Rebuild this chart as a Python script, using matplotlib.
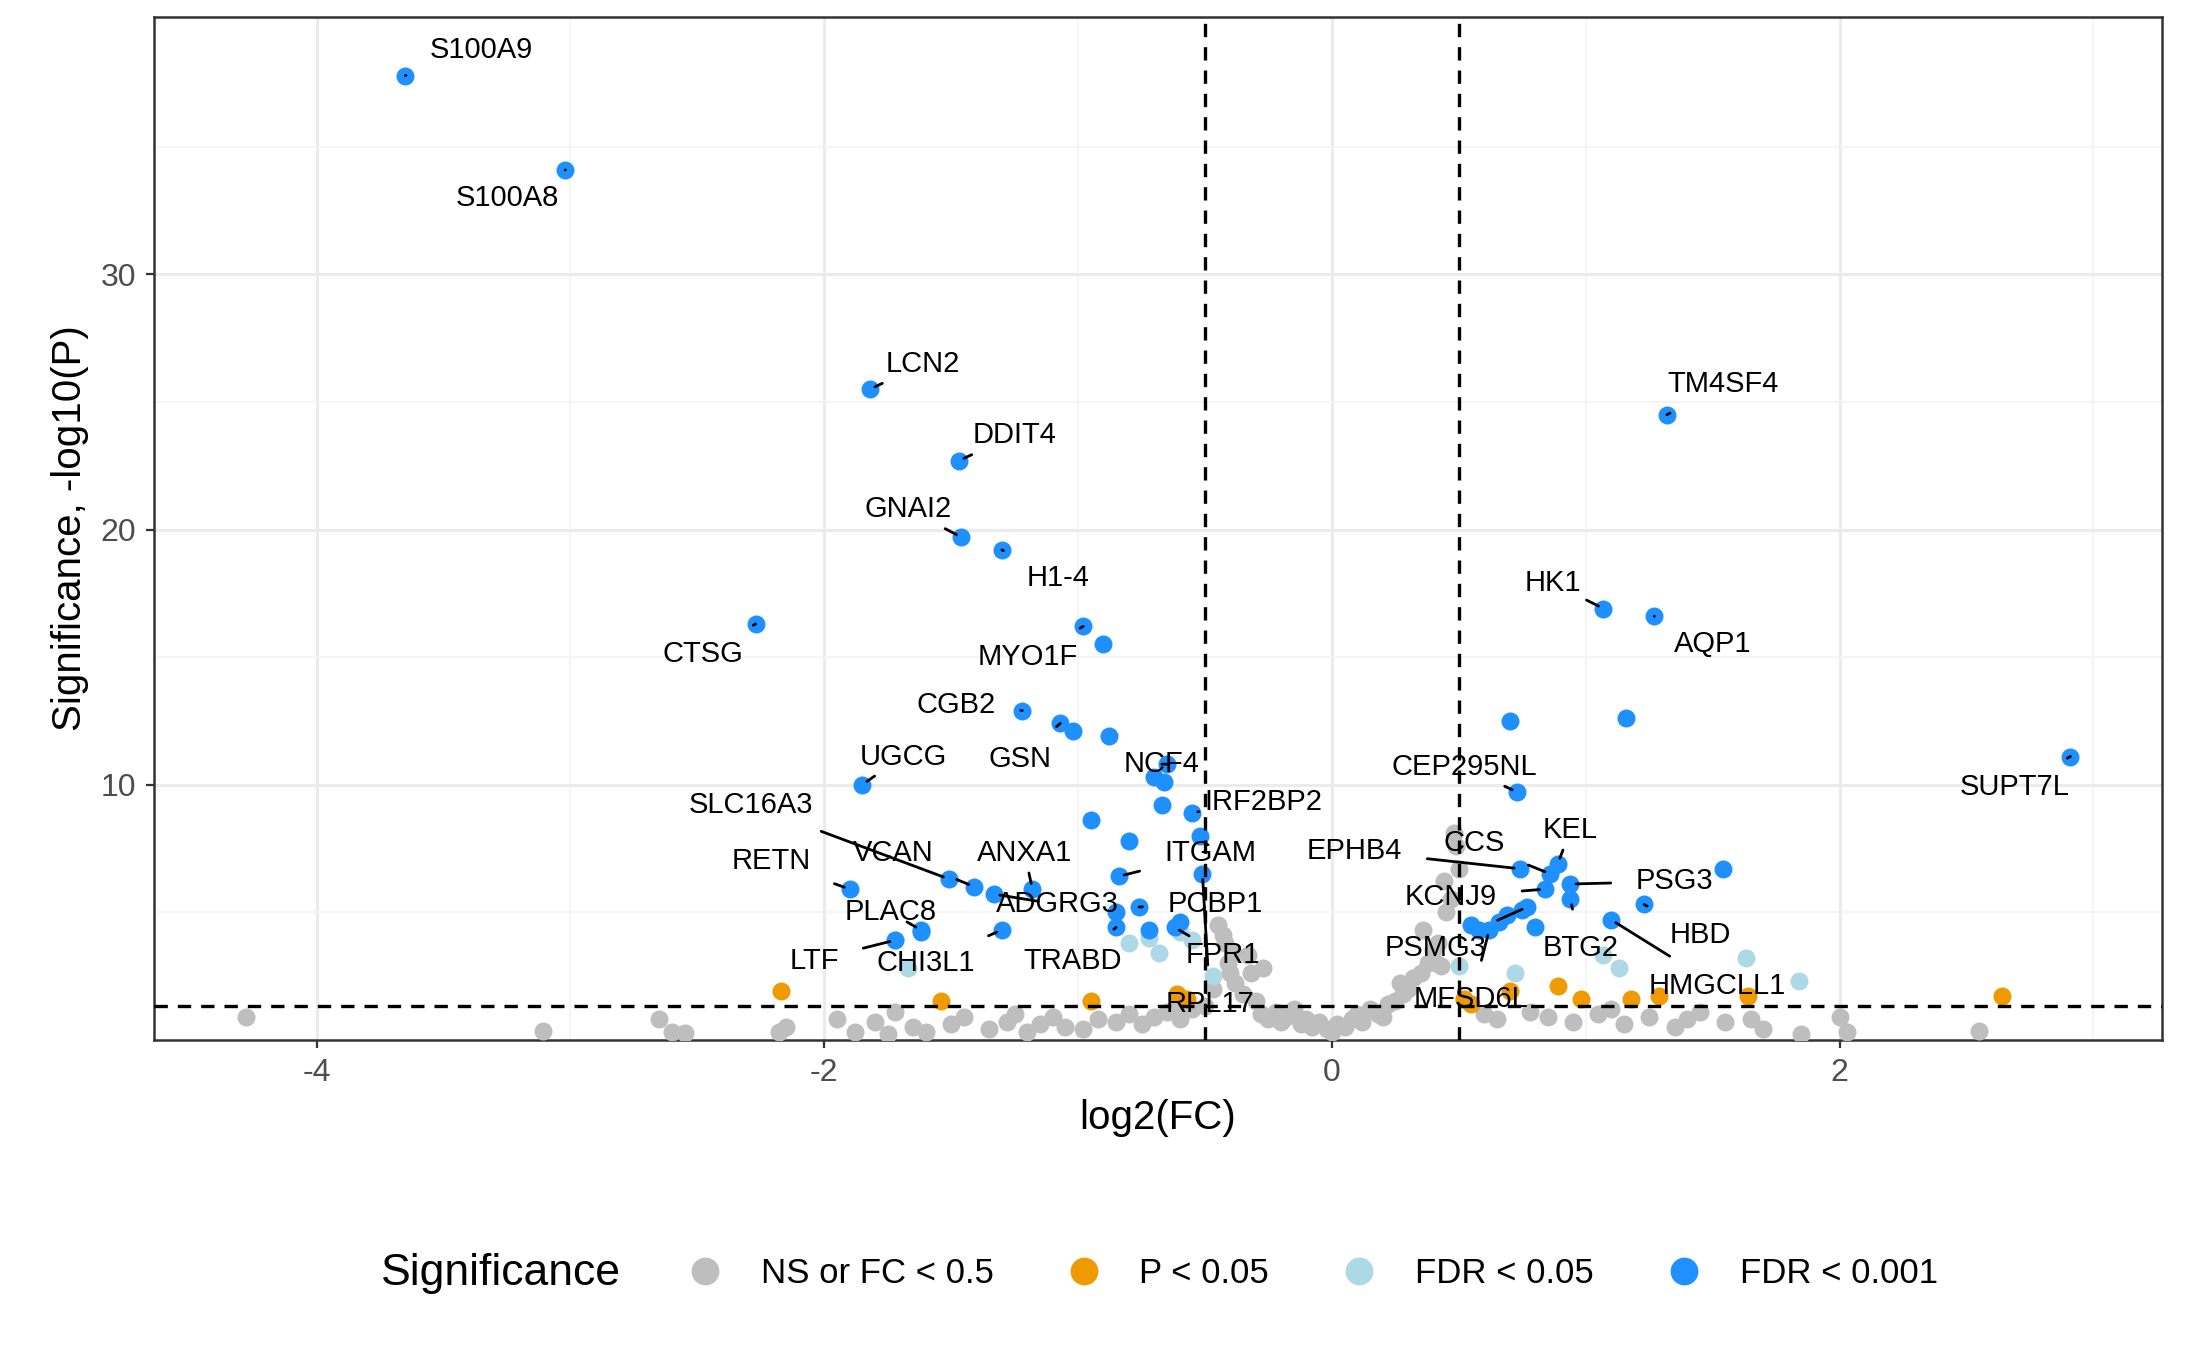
import matplotlib.pyplot as plt
from matplotlib.lines import Line2D
from matplotlib.offsetbox import HPacker

plt.rcParams['font.family'] = ['Liberation Sans', 'DejaVu Sans']
plt.rcParams['axes.unicode_minus'] = False

# labelled genes: name, log2FC, -log10P, label x, label y
genes = ["S100A9", "S100A8", "LCN2", "DDIT4", "GNAI2", "H1-4", "CTSG", "MYO1F", "CGB2", "GSN",
         "UGCG", "NCF4", "SLC16A3", "IRF2BP2", "VCAN", "ANXA1", "ITGAM", "RETN", "ADGRG3", "PCBP1",
         "PLAC8", "LTF", "CHI3L1", "TRABD", "FPR1", "RPL17",
         "TM4SF4", "HK1", "AQP1", "CEP295NL", "SUPT7L", "KEL", "CCS", "EPHB4", "PSG3", "KCNJ9",
         "HBD", "PSMG3", "BTG2", "HMGCLL1", "MFSD6L"]
gene_fc = [-3.65, -3.02, -1.82, -1.47, -1.46, -1.30, -2.27, -0.98, -1.22, -1.07,
           -1.85, -0.65, -1.51, -0.55, -1.41, -1.18, -0.84, -1.90, -1.33, -0.76,
           -1.62, -1.72, -1.30, -0.85, -0.62, -0.51,
           1.32, 1.07, 1.27, 0.73, 2.91, 0.89, 0.86, 0.74, 0.94, 0.84,
           1.23, 0.77, 0.94, 1.10, 0.62]
gene_p = [37.8, 34.1, 25.5, 22.7, 19.7, 19.2, 16.3, 16.2, 12.9, 12.4,
          10.0, 10.8, 6.3, 8.9, 6.0, 5.9, 6.4, 5.9, 5.7, 5.2,
          4.3, 3.9, 4.3, 4.4, 4.4, 6.5,
          24.5, 16.9, 16.6, 9.7, 11.1, 6.9, 6.5, 6.7, 6.1, 5.9,
          5.3, 5.2, 5.5, 4.7, 4.3]
lab_x = [-3.35, -3.25, -1.61, -1.25, -1.67, -1.08, -2.48, -1.20, -1.48, -1.23,
         -1.69, -0.67, -2.29, -0.27, -1.73, -1.21, -0.48, -2.21, -1.08, -0.46,
         -1.74, -2.04, -1.60, -1.02, -0.43, -0.48,
         1.54, 0.87, 1.50, 0.52, 2.69, 0.94, 0.56, 0.09, 1.35, 0.47,
         1.45, 0.41, 0.98, 1.52, 0.55]
lab_y = [38.8, 33.0, 26.5, 23.7, 20.8, 18.1, 15.1, 15.0, 13.1, 11.0,
         11.1, 10.8, 9.2, 9.3, 7.3, 7.3, 7.3, 7.0, 5.3, 5.3,
         5.0, 3.1, 3.0, 3.1, 3.3, 1.4,
         25.7, 17.9, 15.5, 10.7, 9.9, 8.2, 7.7, 7.4, 6.2, 5.6,
         4.1, 3.6, 3.6, 2.1, 1.6]

# other FDR < 0.001 points
blue_fc = [-0.90, -1.02, -0.88, -0.70, -0.66, -0.67, -0.52, -0.80, -0.95, -1.62, -0.85, -0.60, -0.72,
           0.70, 1.16, 1.54, 0.55, 0.69, 0.58, 0.75, 0.80, 0.66]
blue_p = [15.5, 12.1, 11.9, 10.3, 10.1, 9.2, 8.0, 7.8, 8.6, 4.2, 5.0, 4.6, 4.3,
          12.5, 12.6, 6.7, 4.5, 4.9, 4.3, 5.1, 4.4, 4.6]

lb_fc = [-1.72, -1.67, -0.72, -0.68, -0.55, -0.80, 0.72, 1.07, 1.13, 1.63, 1.84, 0.50, -0.47, -0.60]
lb_p = [3.9, 2.8, 4.0, 3.4, 3.9, 3.8, 2.6, 3.3, 2.8, 3.2, 2.3, 2.9, 2.5, 4.2]

or_fc = [-2.17, -1.54, -0.95, -0.61, -0.57, 0.52, 0.55, 0.89, 0.98, 1.18, 1.29, 1.64, 2.64, 0.70]
or_p = [1.9, 1.5, 1.5, 1.8, 1.6, 1.6, 1.4, 2.1, 1.6, 1.6, 1.7, 1.7, 1.7, 1.9]

ns_fc = [-4.28, -3.11, -2.65, -2.60, -2.55, -2.18, -2.15, -1.95, -1.88, -1.80, -1.75, -1.65, -1.60,
         -1.50, -1.45, -1.35, -1.28, -1.20, -1.15, -1.10, -1.05, -0.98, -0.92, -0.85, -0.80, -0.75,
         -0.70, -0.65, -0.60, -0.55, -0.50, -0.47, -0.45, -0.43, -0.41, -0.40, -0.38, -0.35, -0.32,
         -0.30, -0.28, -0.25, -0.22, -0.20, -0.18, -0.15, -0.12, -0.10, -0.08, -0.05, -0.02, 0.0,
         0.02, 0.05, 0.08, 0.10, 0.12, 0.15, 0.18, 0.20, 0.22, 0.25, 0.28, 0.30, 0.32, 0.35, 0.38,
         0.40, 0.42, 0.43, 0.45, 0.47, 0.48, 0.49, 0.50, 0.52, 0.60, 0.65, 0.78, 0.85, 0.95, 1.05,
         1.15, 1.25, 1.35, 1.45, 1.55, 1.65, 1.70, 1.85, 2.00, 2.03, 2.55, -0.33, -0.27, 0.36, 0.27,
         -0.42, 0.44, -0.39, 0.41, -1.72, -1.25, -0.62, 1.10, 1.40]
ns_p = [0.9, 0.35, 0.8, 0.3, 0.25, 0.3, 0.5, 0.8, 0.3, 0.7, 0.2, 0.5, 0.3,
        0.6, 0.9, 0.4, 0.7, 0.3, 0.6, 0.9, 0.5, 0.4, 0.8, 0.7, 1.0, 0.6,
        0.9, 1.1, 0.8, 1.2, 1.3, 2.0, 4.5, 4.1, 3.0, 2.6, 2.2, 1.8, 2.6,
        1.5, 1.0, 0.8, 1.1, 0.7, 0.9, 1.2, 0.6, 0.8, 0.5, 0.7, 0.4, 0.3,
        0.6, 0.5, 0.8, 1.0, 0.7, 1.2, 1.0, 0.9, 1.4, 1.5, 1.8, 2.0, 2.4, 2.6, 3.0,
        3.5, 3.8, 2.9, 5.0, 5.5, 8.1, 7.6, 6.7, 1.6, 1.0, 0.8, 1.1, 0.9, 0.7, 1.0,
        0.6, 0.9, 0.5, 1.1, 0.7, 0.8, 0.4, 0.2, 0.9, 0.3, 0.35, 3.3, 2.8, 4.3, 2.2,
        3.8, 6.2, 3.4, 3.0, 1.1, 1.0, 1.2, 1.2, 0.8]

c_ns, c_p, c_fdr, c_fdr3 = '#BEBEBE', '#EE9A00', '#ADD8E6', '#1E90FF'

fig = plt.figure(figsize=(10.935, 6.755), dpi=200)
ax = fig.add_axes([0.0705, 0.2305, 0.918, 0.757])

s = 42
ax.scatter(ns_fc, ns_p, s=s, color=c_ns, lw=0, zorder=3)
ax.scatter(or_fc, or_p, s=s, color=c_p, lw=0, zorder=3)
ax.scatter(lb_fc, lb_p, s=s, color=c_fdr, lw=0, zorder=3)
ax.scatter(blue_fc, blue_p, s=s, color=c_fdr3, lw=0, zorder=4)
ax.scatter(gene_fc, gene_p, s=s, color=c_fdr3, lw=0, zorder=4)

for g, x, y, tx, ty in zip(genes, gene_fc, gene_p, lab_x, lab_y):
    ax.annotate(g, xy=(x, y), xytext=(tx, ty), ha='center', va='center', fontsize=10.5,
                arrowprops=dict(arrowstyle='-', color='black', lw=1.0, shrinkA=7, shrinkB=2),
                zorder=6)

ax.axvline(-0.5, color='black', ls=(0, (4, 3)), lw=1.2, zorder=5)
ax.axvline(0.5, color='black', ls=(0, (4, 3)), lw=1.2, zorder=5)
ax.axhline(1.30103, color='black', ls=(0, (4, 3)), lw=1.2, zorder=5)

ax.set_xlim(-4.64, 3.27)
ax.set_ylim(0, 40.1)
ax.set_xticks([-4, -2, 0, 2])
ax.set_yticks([10, 20, 30])
ax.set_xticks([-3, -1, 1, 3], minor=True)
ax.set_yticks([5, 15, 25, 35], minor=True)
ax.grid(True, which='major', color='#EBEBEB', lw=1.1, zorder=0)
ax.grid(True, which='minor', color='#F3F3F3', lw=0.6, zorder=0)
ax.set_axisbelow(True)
ax.tick_params(which='minor', length=0)
ax.tick_params(which='major', length=3, color='#333333', labelsize=11.5, labelcolor='#4D4D4D')
for sp in ax.spines.values():
    sp.set_color('#333333')
    sp.set_linewidth(0.9)
ax.set_xlabel('log2(FC)', fontsize=14.5)
ax.set_ylabel('Significance, -log10(P)', fontsize=14.5)

handles = [Line2D([], [], marker='o', ls='', color=c, markersize=9)
           for c in (c_ns, c_p, c_fdr, c_fdr3)]
leg = fig.legend(handles, ['NS or FC < 0.5', 'P < 0.05', 'FDR < 0.05', 'FDR < 0.001'],
                 title='Significance', loc='center', bbox_to_anchor=(0.53, 0.057), ncol=4,
                 frameon=False, fontsize=12.5, title_fontsize=16,
                 handletextpad=0.6, columnspacing=1.6)
# put title to the left of the entries
box = leg._legend_box
box.__class__ = HPacker
box.sep = 18

fig.savefig('out.png', dpi=200)
